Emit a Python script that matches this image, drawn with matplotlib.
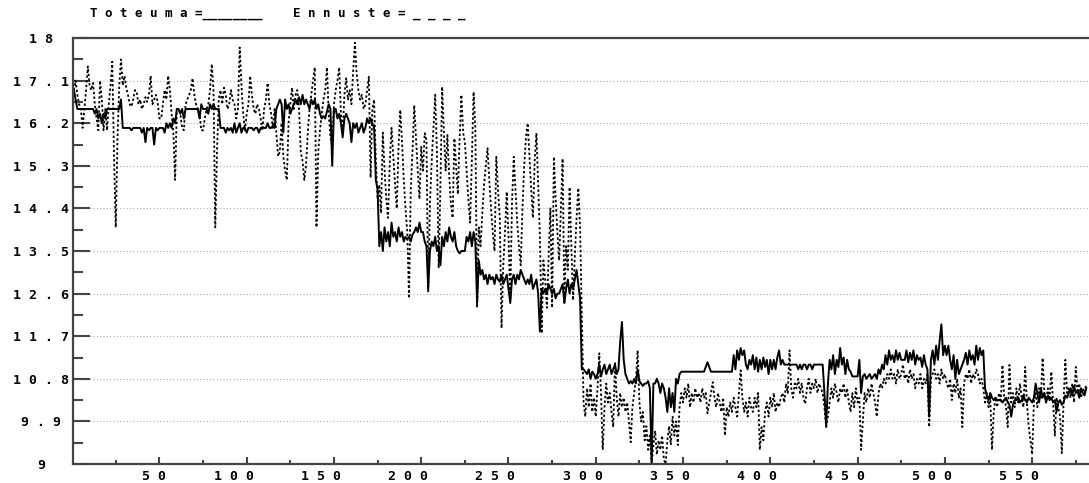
import numpy as np
import matplotlib.pyplot as plt
from matplotlib.ticker import FixedLocator, MultipleLocator
import matplotlib.transforms as mtransforms

# Toteuma (actual), one value per step 1..581
toteuma = [
    16.9, 16.7, 16.5, 16.5, 16.5, 16.5, 16.5, 16.5, 16.5, 16.5,
    16.5, 16.5, 16.4, 16.5, 16.3, 16.4, 16.2, 16.4, 16.3, 16.5,
    16.5, 16.5, 16.5, 16.5, 16.5, 16.5, 16.5, 16.7, 16.1, 16.1,
    16.1, 16.1, 16.1, 16.05, 16.1, 16.1, 16.1, 16.1, 16.1, 16.0,
    16.1, 15.8, 16.1, 16.05, 16.1, 16.1, 15.75, 16.1, 16.05, 16.1,
    16.1, 16.1, 16.0, 16.2, 16.1, 16.2, 16.1, 16.3, 16.2, 16.5,
    16.5, 16.4, 16.5, 16.3, 16.5, 16.5, 16.5, 16.5, 16.5, 16.5,
    16.5, 16.5, 16.3, 16.6, 16.5, 16.5, 16.5, 16.4, 16.6, 16.5,
    16.6, 16.5, 16.5, 16.5, 16.1, 16.1, 16.1, 16.0, 16.1, 16.05,
    16.1, 16.0, 16.2, 16.0, 16.1, 16.2, 16.0, 16.1, 16.1, 16.0,
    16.1, 16.1, 16.1, 16.05, 16.1, 16.1, 16.0, 16.1, 16.1, 16.1,
    16.1, 16.2, 16.1, 16.1, 16.15, 16.1, 16.5, 16.6, 16.7, 16.6,
    16.0, 16.7, 16.5, 16.6, 16.4, 16.5, 16.6, 16.7, 16.6, 16.75,
    16.6, 16.8, 16.6, 16.7, 16.6, 16.5, 16.7, 16.6, 16.7, 16.5,
    16.6, 16.4, 16.3, 16.35, 16.3, 16.45, 16.6, 16.5, 15.3, 16.5,
    16.5, 16.3, 16.4, 16.2, 15.9, 16.3, 16.4, 16.3, 16.2, 15.8,
    16.2, 16.1, 16.2, 16.0, 16.1, 16.2, 16.0, 16.1, 16.3, 16.2,
    16.3, 16.2, 16.1, 15.0, 14.8, 13.6, 13.9, 13.5, 14.0, 13.7,
    13.9, 13.6, 14.1, 13.8, 13.9, 13.7, 14.0, 13.8, 13.9, 13.7,
    13.8, 13.75, 13.8, 13.7, 13.85, 13.9, 14.0, 13.9, 14.1, 13.9,
    13.9, 13.7, 13.6, 12.7, 13.5, 13.7, 13.6, 13.8, 13.5, 13.6,
    13.2, 13.8, 13.6, 13.9, 13.7, 14.0, 13.8, 13.7, 13.9, 13.6,
    13.5, 13.45, 13.5, 13.5, 13.5, 13.8, 13.7, 13.9, 13.6, 13.9,
    13.7, 12.4, 13.3, 13.0, 13.1, 12.9, 13.0, 12.8, 13.0, 12.9,
    12.95, 12.8, 13.0, 12.9, 12.85, 13.0, 12.8, 12.9, 13.0, 12.7,
    12.4, 12.9, 13.0, 12.8, 13.0, 12.9, 13.1, 13.0, 12.9, 12.8,
    12.9, 12.8, 13.0, 12.7, 12.8, 12.9, 12.6, 11.8, 12.7, 12.6,
    12.7, 12.6, 12.8, 12.7, 12.6, 12.7, 12.5, 12.6, 12.6, 12.7,
    12.8, 12.4, 12.7, 12.9, 12.6, 12.8, 12.7, 12.9, 13.1, 12.8,
    12.5, 11.0, 11.0, 10.95, 10.9, 11.0, 10.8, 10.95, 10.9, 10.8,
    10.9, 11.1, 10.85, 11.0, 11.1, 10.9, 11.0, 11.1, 10.9, 11.0,
    11.1, 10.9, 11.0, 11.6, 12.0, 11.2, 10.9, 10.8, 10.7, 10.75,
    10.7, 10.8, 10.7, 11.0, 10.75, 10.7, 10.65, 10.7, 10.7, 10.75,
    10.6, 9.0, 10.7, 10.7, 10.8, 10.7, 10.5, 10.7, 10.6, 10.4,
    10.1, 10.6, 10.2, 10.5, 10.1, 10.8, 10.7, 10.9, 10.95, 10.95,
    10.95, 10.95, 10.95, 10.95, 10.95, 10.95, 10.95, 10.95, 10.95, 10.95,
    10.95, 10.95, 11.05, 11.15, 11.05, 10.95, 10.95, 10.95, 10.95, 10.95,
    10.95, 10.95, 10.95, 10.95, 10.95, 10.95, 10.95, 10.95, 11.3, 11.0,
    11.4, 11.2, 11.45, 11.3, 11.4, 11.1, 11.0, 11.2, 11.1, 11.3,
    11.0, 11.25, 10.95, 11.2, 11.0, 11.25, 11.05, 11.2, 10.9, 11.2,
    11.0, 11.2, 11.0, 11.25, 11.4, 11.1, 11.2, 11.1, 11.1, 11.1,
    11.1, 11.1, 11.1, 11.1, 11.1, 11.0, 11.1, 11.0, 11.1, 11.1,
    11.0, 11.1, 11.1, 11.0, 11.1, 11.1, 11.1, 11.1, 11.1, 11.1,
    10.5, 9.8, 10.7, 11.2, 11.0, 11.3, 10.9, 11.2, 11.05, 11.45,
    11.1, 11.25, 10.9, 11.2, 11.0, 10.95, 10.85, 10.85, 10.85, 10.85,
    11.2, 10.5, 10.85, 10.9, 10.8, 10.85, 10.9, 10.8, 10.85, 10.9,
    10.8, 11.0, 10.9, 11.1, 11.0, 11.3, 11.1, 11.4, 11.2, 11.3,
    11.15, 11.4, 11.2, 11.35, 11.2, 11.2, 11.2, 11.4, 11.15, 11.35,
    11.2, 11.4, 11.1, 11.3, 11.2, 11.25, 11.05, 11.3, 11.1, 11.0,
    10.0, 11.2, 11.4, 11.1, 11.5, 11.2, 11.6, 11.95, 11.3, 11.5,
    11.3, 11.5, 11.2, 11.0, 11.3, 10.8, 11.2, 10.9, 11.0, 11.1,
    11.2, 11.35, 11.1, 11.4, 11.2, 11.3, 11.1, 11.5, 11.2, 11.45,
    11.3, 11.4, 10.6, 10.45, 10.35, 10.5, 10.4, 10.35, 10.4, 10.35,
    10.35, 10.35, 10.3, 10.35, 10.4, 10.3, 10.25, 10.0, 10.25, 10.35,
    10.35, 10.4, 10.3, 10.35, 10.45, 10.35, 10.3, 10.4, 10.35, 10.3,
    10.4, 10.7, 10.5, 10.3, 10.6, 10.4, 10.5, 10.3, 10.45, 10.35,
    10.4, 10.3, 10.35, 10.1, 10.3, 10.35, 10.25, 10.3, 10.45, 10.4,
    10.5, 10.6, 10.45, 10.65, 10.5, 10.55, 10.4, 10.6, 10.5, 10.45,
    10.6,
]

# Ennuste (forecast), same steps
ennuste = [
    16.9, 17.1, 16.8, 16.6, 16.5, 16.1, 16.5, 16.9, 17.4, 17.0,
    16.9, 17.05, 16.6, 16.3, 16.05, 17.1, 16.7, 16.05, 16.5, 16.05,
    16.6, 17.0, 17.5, 15.5, 14.0, 15.9, 17.0, 17.55, 17.0, 17.2,
    16.95, 16.8, 16.6, 16.55, 16.7, 16.9, 16.85, 16.6, 16.7, 16.5,
    16.6, 16.75, 16.65, 16.8, 17.2, 16.6, 16.7, 16.8, 16.65, 16.3,
    16.3, 16.6, 16.9, 16.7, 17.2, 16.9, 16.4, 16.0, 15.0, 16.5,
    16.5, 16.4, 16.1, 16.05, 16.6, 16.7, 16.8, 16.9, 17.15, 16.8,
    16.6, 16.5, 16.4, 16.05, 16.05, 16.3, 16.5, 16.6, 16.9, 17.45,
    16.9, 14.0, 15.6, 16.7, 16.9, 16.6, 16.95, 16.8, 16.5, 16.6,
    16.9, 16.7, 16.6, 16.3, 16.5, 17.8, 17.0, 16.4, 16.05, 16.4,
    16.6, 17.2, 16.8, 16.5, 16.4, 16.6, 16.5, 16.3, 16.05, 16.5,
    16.7, 17.05, 16.6, 16.4, 16.1, 16.5, 16.0, 15.5, 15.6, 16.2,
    15.5, 15.2, 15.0, 16.2, 16.6, 16.95, 16.5, 16.8, 16.9, 16.5,
    15.6, 15.4, 15.0, 15.3, 16.0, 16.5, 16.8, 17.1, 17.38, 14.0,
    15.6, 16.05, 16.4, 16.7, 16.9, 17.38, 16.4, 15.9, 15.7, 16.6,
    16.9, 17.1, 17.38, 16.4, 16.0, 16.8, 17.15, 16.7, 16.9, 16.6,
    17.3, 17.9, 17.25, 16.9, 16.7, 16.8, 16.5, 16.6, 16.9, 17.18,
    15.05, 16.5, 16.7, 15.4, 14.6, 14.9, 14.3, 16.0, 15.2, 14.6,
    14.2, 15.4, 16.1, 15.5, 14.9, 14.4, 15.7, 16.48, 15.8, 15.0,
    14.4, 13.9, 12.5, 14.8, 15.6, 16.58, 15.9, 15.2, 14.6, 15.7,
    15.2, 15.99, 15.85, 12.63, 14.5, 15.4, 16.1, 16.8, 15.6, 13.14,
    14.9, 16.97, 16.0, 15.2, 15.95, 15.1, 14.5, 14.2, 15.88, 15.3,
    14.7, 15.88, 16.8, 16.0, 15.8, 15.2, 14.6, 14.1, 15.4, 16.86,
    16.1, 12.3, 14.0, 13.6, 14.3, 14.9, 15.3, 15.67, 15.0, 14.4,
    13.9, 13.5, 15.49, 14.8, 14.2, 11.87, 13.2, 13.9, 14.75, 13.8,
    12.46, 14.5, 15.49, 14.8, 14.1, 13.6, 13.2, 14.4, 15.3, 15.9,
    16.2, 15.5, 14.8, 14.2, 15.4, 15.99, 14.9, 13.8, 11.76, 13.3,
    12.9, 12.3, 13.4, 14.4, 12.3, 15.49, 14.6, 13.9, 13.3, 14.4,
    15.45, 12.42, 13.6, 13.1, 14.85, 13.6, 12.46, 13.4, 14.2, 14.83,
    14.0, 12.1, 10.3, 10.0, 10.6, 10.2, 10.7, 10.1, 10.4, 10.0,
    10.6, 11.34, 10.5, 9.3, 10.2, 10.7, 10.3, 10.5, 10.1, 9.78,
    11.13, 10.4, 10.0, 10.5, 10.2, 10.4, 10.1, 10.3, 9.9, 9.46,
    10.2, 10.5, 10.8, 11.4, 10.3, 9.9, 10.1, 9.5, 9.8, 9.3,
    9.6, 9.0, 9.4, 9.7, 9.2, 9.5, 9.3, 9.6, 9.1, 9.0,
    9.5, 9.8, 9.4, 10.0, 9.6, 9.9, 9.4, 10.2, 10.5, 10.3,
    10.6, 10.4, 10.7, 10.2, 10.5, 10.3, 10.6, 10.4, 10.5, 10.3,
    10.6, 10.4, 10.5, 10.07, 10.3, 10.5, 10.73, 10.4, 10.2, 10.5,
    10.3, 10.1, 10.4, 9.6, 10.2, 10.0, 10.3, 10.1, 10.4, 10.2,
    10.0, 10.5, 10.98, 10.4, 10.1, 10.3, 10.0, 10.4, 10.2, 10.1,
    10.4, 10.2, 10.5, 9.3, 9.78, 9.5, 10.1, 10.3, 10.0, 10.4,
    10.2, 10.5, 10.1, 10.3, 10.2, 10.4, 10.5, 10.3, 10.7, 10.5,
    11.4, 10.6, 10.4, 10.7, 10.6, 10.8, 10.5, 10.7, 10.4, 10.27,
    10.6, 10.8, 10.5, 10.7, 10.6, 10.8, 10.5, 10.7, 10.6, 10.5,
    10.2, 9.78, 10.0, 10.3, 10.6, 10.4, 10.7, 10.5, 10.3, 10.6,
    10.5, 10.7, 10.4, 10.6, 10.3, 10.1, 10.5, 10.2, 10.6, 10.3,
    10.4, 9.3, 9.9, 10.5, 10.3, 10.6, 10.4, 10.7, 10.5, 10.3,
    10.0, 10.5, 10.7, 10.6, 10.8, 10.7, 10.9, 10.8, 11.0, 10.8,
    10.9, 10.7, 11.0, 10.8, 10.9, 11.1, 10.8, 10.9, 10.7, 11.0,
    10.8, 10.9, 10.6, 10.8, 10.7, 10.9, 10.6, 10.8, 10.7, 10.9,
    9.78, 10.8, 10.9, 11.0, 10.8, 10.9, 10.7, 11.0, 10.8, 10.9,
    10.7, 10.6, 10.8, 10.35, 10.7, 10.5, 10.8, 10.4, 10.6, 9.78,
    10.7, 10.9, 10.8, 11.0, 10.7, 10.9, 10.8, 11.0, 10.9, 10.7,
    10.8, 10.6, 10.3, 10.5, 10.2, 10.4, 9.3, 10.1, 10.4, 10.2,
    10.5, 10.3, 11.09, 10.4, 10.2, 9.78, 11.09, 10.3, 10.5, 10.2,
    10.6, 10.3, 10.7, 10.4, 10.2, 11.05, 10.3, 9.8, 9.5, 9.2,
    10.3, 10.5, 10.2, 10.6, 10.4, 11.24, 10.5, 10.3, 10.6, 10.4,
    10.95, 10.3, 9.6, 10.4, 10.2, 10.0, 9.23, 10.3, 11.2, 10.5,
    10.6, 10.4, 10.7, 10.3, 11.05, 10.5, 10.7, 10.4, 10.6, 10.5,
    10.7,
]

y_ticks = [9, 9.9, 10.8, 11.7, 12.6, 13.5, 14.4, 15.3, 16.2, 17.1, 18]
x_ticks = [50, 100, 150, 200, 250, 300, 350, 400, 450, 500, 550]


def spaced(s):
    # wide look of the old screen font
    return ' '.join(s)


x = np.arange(1, len(toteuma) + 1)

plt.rcParams['font.family'] = 'DejaVu Sans Mono'
plt.rcParams['font.weight'] = 'bold'
fs = 9.5
ink = '#444444'

fig = plt.figure(figsize=(10.89, 4.83), dpi=100)
ax = fig.add_axes([73/1089, 19/483, 1015/1089, 426/483])

ax.plot(x, ennuste, color='black', lw=1.3, linestyle=(0, (1.3, 1.3)))
ax.plot(x, toteuma, color='black', lw=1.4)

ax.set_xlim(0.5, 582)
ax.set_ylim(9, 18)

ax.yaxis.set_major_locator(FixedLocator(y_ticks))
ax.yaxis.set_minor_locator(FixedLocator([v + 0.45 for v in y_ticks[:-1]]))
ax.xaxis.set_major_locator(FixedLocator(x_ticks))
ax.xaxis.set_minor_locator(MultipleLocator(25))
ax.set_yticklabels([spaced(f'{v:g}') for v in y_ticks], fontsize=fs)
ax.set_xticklabels([spaced(str(v)) for v in x_ticks], fontsize=fs)

ax.tick_params(axis='y', which='major', direction='in', length=12, width=1.5,
               color=ink, pad=23)
ax.tick_params(axis='y', which='minor', direction='in', length=7, width=1.5,
               color=ink)
ax.tick_params(axis='x', which='major', direction='in', length=5, width=1.5,
               color=ink, pad=4)
ax.tick_params(axis='x', which='minor', direction='in', length=3, width=1.5,
               color=ink)

for lbl in ax.get_yticklabels():
    lbl.set_ha('center')
shift = mtransforms.ScaledTranslation(7/100, 0, fig.dpi_scale_trans)
for lbl in ax.get_xticklabels():
    lbl.set_ha('right')
    lbl.set_transform(lbl.get_transform() + shift)

# dotted grid on the labelled levels only
for v in y_ticks[1:-1]:
    ax.axhline(v, color='#aaaaaa', lw=0.8, linestyle=(0, (1, 2)), zorder=0)

for side in ['left', 'bottom', 'top']:
    ax.spines[side].set_color(ink)
    ax.spines[side].set_linewidth(1.6)
ax.spines['right'].set_visible(False)

fig.text(90/1089, 1 - 14/483, spaced('Toteuma=') + '________', fontsize=9,
         va='center', ha='left')
fig.text(293/1089, 1 - 14/483, spaced('Ennuste=') + ' _ _ _ _', fontsize=9,
         va='center', ha='left')

fig.savefig('out.png', dpi=100)
